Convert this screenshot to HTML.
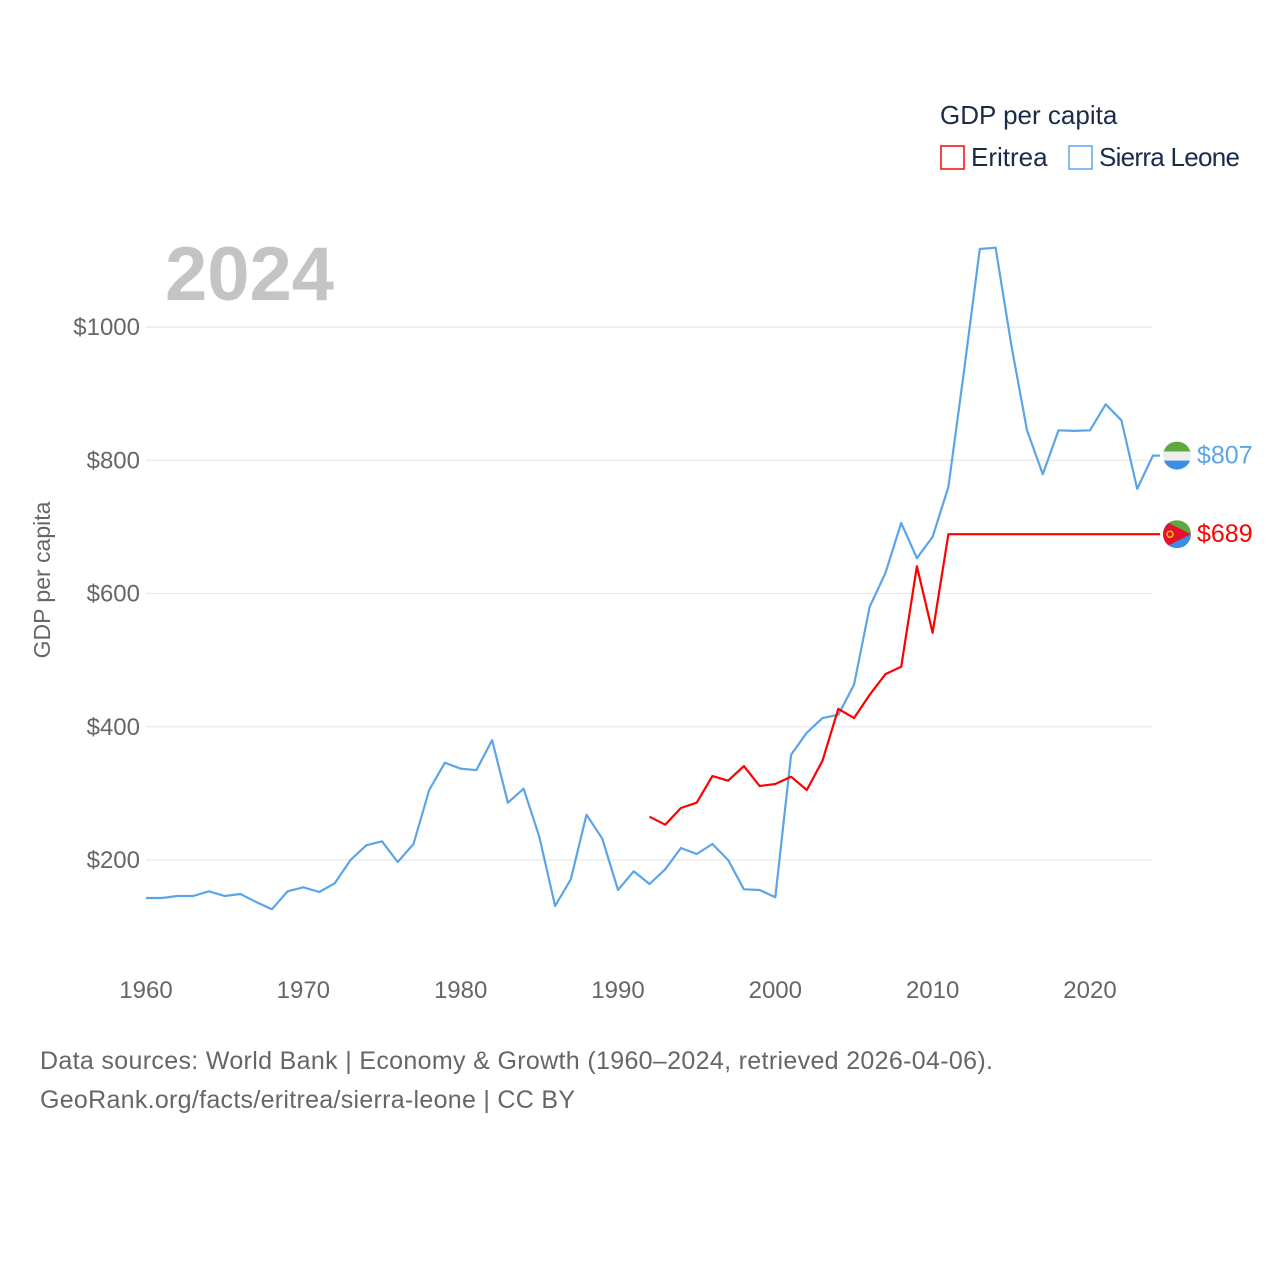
<!DOCTYPE html>
<html><head><meta charset="utf-8"><style>
body{margin:0;background:#fff;font-family:"Liberation Sans",sans-serif}
svg text{font-family:"Liberation Sans",sans-serif}
</style></head><body>
<svg id="chart" width="1280" height="1280" viewBox="0 0 1280 1280" xmlns="http://www.w3.org/2000/svg">
<text x="940" y="124" font-size="26" fill="#1a2b4a">GDP per capita</text>
<g><rect x="941" y="146" width="23" height="23" fill="none" stroke="#ff0000" stroke-width="1.5"/><text x="971" y="166" font-size="26" fill="#1a2b4a">Eritrea</text></g>
<g><rect x="1069" y="146" width="23" height="23" fill="none" stroke="#5aa5e8" stroke-width="1.5"/><text x="1099" y="166" font-size="26" fill="#1a2b4a" textLength="141">Sierra Leone</text></g>
<text x="165" y="300" font-size="76" font-weight="bold" fill="#c4c4c4">2024</text>
<text transform="translate(50,580) rotate(-90)" text-anchor="middle" font-size="23" fill="#666">GDP per capita</text>
<g id="grid"></g><g id="yt"></g><g id="xt"></g><g id="lines"></g><g id="ends"></g>
<text x="40" y="1069" font-size="25" fill="#666" textLength="953">Data sources: World Bank | Economy &amp; Growth (1960–2024, retrieved 2026-04-06).</text>
<text x="40" y="1108" font-size="25" fill="#666" textLength="535">GeoRank.org/facts/eritrea/sierra-leone | CC BY</text>
</svg>
<script>
const yTicks=[200,400,600,800,1000];
const xTicks=[1960,1970,1980,1990,2000,2010,2020];
const slStart=1960;
const sierraLeone=[143,143,146,146,153,146,149,137,126,153,159,152,165,200,222,228,197,224,305,346,337,335,380,286,307,235,131,171,268,232,155,183,164,186,218,209,224,200,156,155,144,358,391,413,418,463,580,631,706,653,685,760,935,1117,1119,973,845,779,845,844,845,884,860,757,807];
const erStart=1992;
const eritrea=[265,253,278,286,326,319,341,311,314,325,305,349,427,413,448,479,490,641,541,689,689,689,689,689,689,689,689,689,689,689,689,689,689];
const x=yr=>146+(yr-1960)*15.733;
const y=v=>860-(v-200)*0.66625;
const NS="http://www.w3.org/2000/svg";
function mk(tag,attrs,parent,txt){const e=document.createElementNS(NS,tag);for(const k in attrs)e.setAttribute(k,attrs[k]);if(txt!==undefined)e.textContent=txt;document.getElementById(parent).appendChild(e);return e;}
yTicks.forEach(v=>{
 const l=mk('line',{x1:146,x2:1152,y1:y(v),y2:y(v),stroke:'#e8e8e8','stroke-width':1.3},'grid');
 
 
 const t=mk('text',{x:140,y:y(v)+8,'text-anchor':'end','font-size':24,fill:'#666'},'yt','$'+v);
 
 
});
xTicks.forEach(v=>{
 const t=mk('text',{x:x(v),y:998,'text-anchor':'middle','font-size':24,fill:'#666'},'xt',String(v));
 
 
});
function line(arr,start,color,name){
 let d=arr.map((v,i)=>(i?'L':'M')+x(start+i).toFixed(1)+','+y(v).toFixed(1)).join('');
 d+='L1160,'+y(arr[arr.length-1]).toFixed(1);
 const p=mk('path',{d:d,fill:'none',stroke:color,'stroke-width':2.2,'stroke-linejoin':'round'},'lines');
 
 
}
line(sierraLeone,slStart,'#5aa5e8','sierra-leone-line');
line(eritrea,erStart,'#ff0000','eritrea-line');
function endLabel(v,color,name,flag){
 const cy=y(v),cx=1177;
 const g=mk('g',{},'ends');
 
 
 const id='c'+name;
 const cp=document.createElementNS(NS,'clipPath');cp.setAttribute('id',id);
 const cc=document.createElementNS(NS,'circle');cc.setAttribute('cx',cx);cc.setAttribute('cy',cy);cc.setAttribute('r',14);cp.appendChild(cc);g.appendChild(cp);
 const fg=document.createElementNS(NS,'g');fg.setAttribute('clip-path','url(#'+id+')');g.appendChild(fg);
 const add=(tag,a)=>{const e=document.createElementNS(NS,tag);for(const k in a)e.setAttribute(k,a[k]);fg.appendChild(e);};
 if(flag==='sl'){
  add('rect',{x:cx-14,y:cy-14,width:28,height:10,fill:'#5ea83f'});
  add('rect',{x:cx-14,y:cy-4,width:28,height:9,fill:'#eee'});
  add('rect',{x:cx-14,y:cy+5,width:28,height:10,fill:'#3a8ee6'});
 }else{
  add('rect',{x:cx-14,y:cy-14,width:28,height:14,fill:'#5ea83f'});
  add('rect',{x:cx-14,y:cy,width:28,height:14,fill:'#3a8ee6'});
  add('polygon',{points:(cx-14)+','+(cy-14)+' '+(cx+14)+','+cy+' '+(cx-14)+','+(cy+14),fill:'#e8112d'});
  add('circle',{cx:cx-7,cy:cy,r:3,fill:'none',stroke:'#f5c400','stroke-width':1.5});
 }
 const t=document.createElementNS(NS,'text');t.setAttribute('x',1197);t.setAttribute('y',cy+8);t.setAttribute('font-size',25);t.setAttribute('fill',color);t.textContent='$'+v;g.appendChild(t);
}
endLabel(sierraLeone[sierraLeone.length-1],'#5aa5e8','sierra-leone-end-label','sl');
endLabel(eritrea[eritrea.length-1],'#ff0000','eritrea-end-label','er');
</script>
</body></html>
